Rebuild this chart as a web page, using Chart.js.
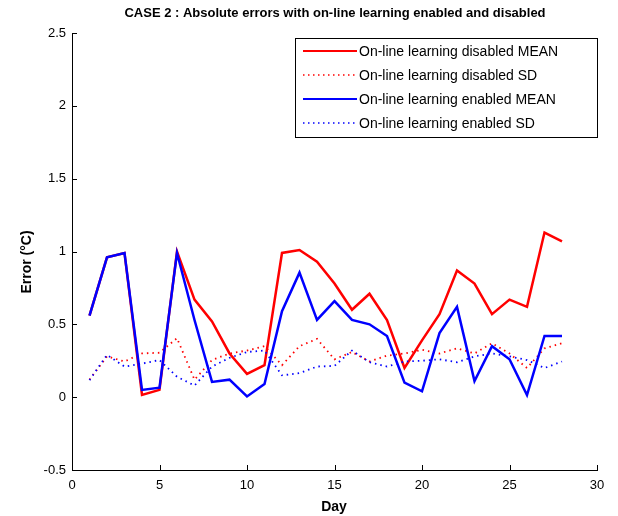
<!DOCTYPE html>
<html>
<head>
<meta charset="utf-8">
<script src="https://cdn.jsdelivr.net/npm/chart.js@4.4.1/dist/chart.umd.min.js"></script>
<style>
  html, body { margin: 0; padding: 0; background: #fff; }
  #wrap { width: 618px; height: 516px; position: relative; }
</style>
</head>
<body>
<div id="wrap"><canvas id="chart" width="618" height="516"></canvas></div>
<script>
// data
const days = [1, 2, 3, 4, 5, 6, 7, 8, 9, 10, 11, 12, 13, 14, 15, 16, 17, 18, 19, 20, 21, 22, 23, 24, 25, 26, 27, 28];
const disabledMean = [0.56, 0.96, 0.99, 0.015, 0.05, 1.0, 0.67, 0.52, 0.3, 0.16, 0.22, 0.99, 1.01, 0.93, 0.78, 0.6, 0.71, 0.53, 0.2, 0.39, 0.57, 0.87, 0.78, 0.57, 0.67, 0.62, 1.13, 1.07];
const disabledSD = [0.12, 0.28, 0.245, 0.3, 0.305, 0.405, 0.12, 0.255, 0.3, 0.32, 0.35, 0.22, 0.35, 0.4, 0.26, 0.31, 0.245, 0.285, 0.3, 0.325, 0.3, 0.335, 0.3, 0.37, 0.3, 0.2, 0.335, 0.37];
const enabledMean = [0.56, 0.96, 0.99, 0.05, 0.065, 0.99, 0.53, 0.105, 0.12, 0.005, 0.09, 0.59, 0.855, 0.53, 0.66, 0.53, 0.5, 0.42, 0.1, 0.04, 0.44, 0.62, 0.11, 0.35, 0.26, 0.015, 0.42, 0.42];
const enabledSD = [0.117, 0.29, 0.21, 0.23, 0.255, 0.14, 0.08, 0.21, 0.27, 0.31, 0.32, 0.15, 0.165, 0.21, 0.215, 0.32, 0.24, 0.21, 0.245, 0.25, 0.26, 0.24, 0.28, 0.3, 0.28, 0.255, 0.2, 0.245];
const xTicks = [0, 5, 10, 15, 20, 25, 30];
const yTicks = [-0.5, 0, 0.5, 1, 1.5, 2, 2.5];
const seriesNames = ["On-line learning disabled MEAN", "On-line learning disabled SD", "On-line learning enabled MEAN", "On-line learning enabled SD"];

const RED = '#ff0000';
const BLUE = '#0000ff';

function pts(vals) {
    return days.map((d, i) => ({ x: d, y: vals[i] }));
}

// title, axis titles, inward ticks and legend box
const decorPlugin = {
    id: 'decor',
    afterDraw(chart) {
        const ctx = chart.ctx;
        const area = chart.chartArea;
        const xs = chart.scales.x, ys = chart.scales.y;
        ctx.save();
        ctx.strokeStyle = '#000';
        ctx.lineWidth = 1;
        ctx.beginPath();
        xTicks.forEach(v => {
            const px = Math.round(xs.getPixelForValue(v)) + 0.5;
            ctx.moveTo(px, area.bottom);
            ctx.lineTo(px, area.bottom - 5);
        });
        yTicks.forEach(v => {
            const py = Math.round(ys.getPixelForValue(v)) + 0.5;
            ctx.moveTo(area.left, py);
            ctx.lineTo(area.left + 5, py);
        });
        ctx.stroke();

        ctx.fillStyle = '#000';
        ctx.textAlign = 'center';
        ctx.textBaseline = 'middle';
        ctx.font = 'bold 13px "Liberation Sans", Arial, sans-serif';
        ctx.fillText('CASE 2 : Absolute errors with on-line learning enabled and disabled', 335, 13);
        ctx.font = 'bold 14px "Liberation Sans", Arial, sans-serif';
        ctx.fillText('Day', 334, 507);
        ctx.save();
        ctx.translate(27, 262);
        ctx.rotate(-Math.PI / 2);
        ctx.fillText('Error (\u00B0C)', 0, 0);
        ctx.restore();

        // legend
        const lx = 295, ly = 38, lw = 302, lh = 99;
        ctx.fillStyle = '#fff';
        ctx.fillRect(lx, ly, lw, lh);
        ctx.strokeStyle = '#000';
        ctx.strokeRect(lx + 0.5, ly + 0.5, lw, lh);
        const styles = [
            { c: RED, dash: [], w: 2 },
            { c: RED, dash: [1.5, 3.5], w: 1.5 },
            { c: BLUE, dash: [], w: 2 },
            { c: BLUE, dash: [1.5, 3.5], w: 1.5 }
        ];
        ctx.font = '14px "Liberation Sans", Arial, sans-serif';
        ctx.textAlign = 'left';
        seriesNames.forEach((name, i) => {
            const cy = ly + 13 + i * 24;
            ctx.strokeStyle = styles[i].c;
            ctx.lineWidth = styles[i].w;
            ctx.setLineDash(styles[i].dash);
            ctx.beginPath();
            ctx.moveTo(lx + 8, cy);
            ctx.lineTo(lx + 62, cy);
            ctx.stroke();
            ctx.setLineDash([]);
            ctx.fillStyle = '#000';
            ctx.fillText(name, lx + 64, cy + 1);
        });
        ctx.restore();
    }
};

const ctx = document.getElementById('chart').getContext('2d');
new Chart(ctx, {
    type: 'line',
    data: {
        datasets: [
            { label: seriesNames[0], data: pts(disabledMean), borderColor: RED, borderWidth: 2.5, order: 3 },
            { label: seriesNames[1], data: pts(disabledSD), borderColor: RED, borderWidth: 1.8, borderDash: [1.5, 4], order: 4 },
            { label: seriesNames[2], data: pts(enabledMean), borderColor: BLUE, borderWidth: 2.5, order: 1 },
            { label: seriesNames[3], data: pts(enabledSD), borderColor: BLUE, borderWidth: 1.8, borderDash: [1.5, 4], order: 2 }
        ]
    },
    options: {
        responsive: false,
        animation: false,
        events: [],
        layout: { padding: { left: 0, right: 21, top: 33, bottom: 0 } },
        elements: { point: { radius: 0 }, line: { tension: 0, fill: false } },
        plugins: { legend: { display: false }, title: { display: false }, tooltip: { enabled: false } },
        scales: {
            x: {
                type: 'linear', min: 0, max: 30,
                afterFit(s) { s.height = 46; },
                afterBuildTicks(s) { s.ticks = xTicks.map(v => ({ value: v })); },
                grid: { display: true, drawOnChartArea: false, drawTicks: false },
                border: { display: true, color: '#000', width: 1 },
                ticks: { padding: 8, color: '#000', maxRotation: 0, callback: v => String(v), font: { family: '"Liberation Sans", Arial, sans-serif', size: 13 } }
            },
            y: {
                type: 'linear', min: -0.5, max: 2.5,
                afterFit(s) { s.width = 72; },
                afterBuildTicks(s) { s.ticks = yTicks.map(v => ({ value: v })); },
                grid: { display: true, drawOnChartArea: false, drawTicks: false },
                border: { display: true, color: '#000', width: 1 },
                ticks: { padding: 6, color: '#000', callback: v => String(v), font: { family: '"Liberation Sans", Arial, sans-serif', size: 13 } }
            }
        }
    },
    plugins: [decorPlugin]
});
</script>
</body>
</html>
